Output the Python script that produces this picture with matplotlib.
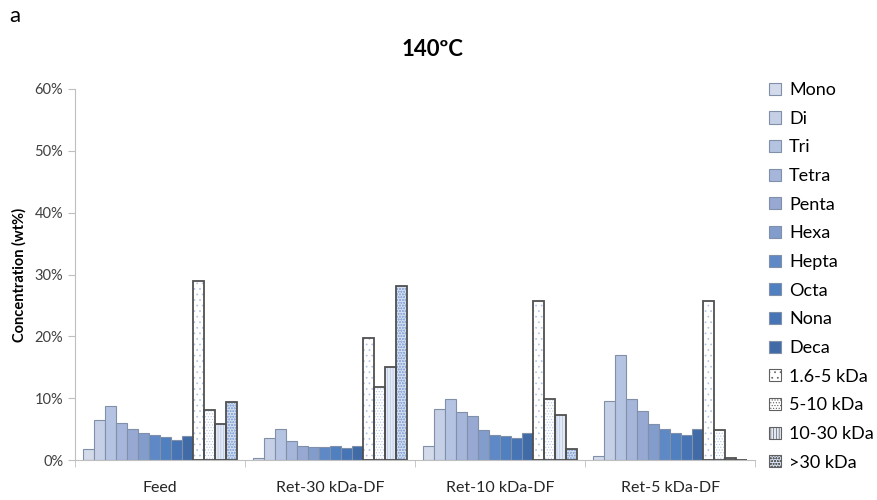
import numpy as np
import matplotlib
matplotlib.use("Agg")
import matplotlib.pyplot as plt
from matplotlib.patches import Patch
from matplotlib.ticker import PercentFormatter

plt.rcParams['font.family'] = ['Lato', 'DejaVu Sans']
plt.rcParams['hatch.linewidth'] = 0.5

# Data (wt%)
groups = ["Feed", "Ret-30 kDa-DF", "Ret-10 kDa-DF", "Ret-5 kDa-DF"]
fractions = ["Mono", "Di", "Tri", "Tetra", "Penta", "Hexa", "Hepta", "Octa",
             "Nona", "Deca", "1.6-5 kDa", "5-10 kDa", "10-30 kDa", ">30 kDa"]

feed = [1.7, 6.5, 8.8, 6.0, 5.0, 4.4, 4.0, 3.7, 3.3, 3.9, 28.9, 8.1, 5.9, 9.3]
ret30 = [0.4, 3.6, 5.0, 3.1, 2.3, 2.1, 2.1, 2.2, 2.0, 2.3, 19.7, 11.8, 15.0, 28.1]
ret10 = [2.2, 8.2, 9.8, 7.7, 7.1, 4.9, 4.1, 3.9, 3.5, 4.4, 25.7, 9.8, 7.2, 1.7]
ret5 = [0.7, 9.5, 17.0, 9.9, 7.9, 5.8, 5.0, 4.4, 4.0, 5.0, 25.7, 4.9, 0.3, 0.0]

values = np.array([feed, ret30, ret10, ret5])  # groups x fractions

oligo_colors = ["#D3DAEA", "#C5CFE6", "#B4C3E1", "#A5B6DA", "#97A9D2",
                "#829DCC", "#5F89C6", "#5080C0", "#4674B5", "#406BA6"]
# (hatch, face colour, hatch colour) for the kDa fractions
hatch_styles = [("...", "white", "#AFC3E6"), ("......", "white", "#B4C6E6"),
                ("||||||", "#E3EAF5", "#B4C6E6"), ("oooooo", "#D3DEF0", "#93AEDB")]


def main():
    fig = plt.figure(figsize=(8.78, 5), dpi=100)
    ax = fig.add_axes([0.0854, 0.08, 0.7746, 0.742])

    n = len(fractions)
    width = 0.906 / n
    x = np.arange(len(groups))
    handles = []
    for i, name in enumerate(fractions):
        pos = x - 0.453 + width * (i + 0.5)
        vals = values[:, i] / 100.0
        if i < 10:
            ax.bar(pos, vals, width, color=oligo_colors[i], edgecolor="#8090A8",
                   linewidth=0.8, zorder=2)
            handles.append(Patch(facecolor=oligo_colors[i], edgecolor="#8090A8",
                                 linewidth=0.8, label=name))
        else:
            hatch, fc, hc = hatch_styles[i - 10]
            ax.bar(pos, vals, width, color=fc, edgecolor=hc, hatch=hatch,
                   linewidth=0, zorder=2)
            ax.bar(pos, vals, width, fill=False, edgecolor="#505050",
                   linewidth=1.3, zorder=3)
            handles.append(Patch(facecolor=fc, edgecolor="#606060", hatch=hatch,
                                 linewidth=0.8, label=name))

    ax.set_xlim(-0.5, len(groups) - 0.5)
    ax.set_ylim(0, 0.6)
    ax.set_yticks(np.arange(0, 0.61, 0.1))
    ax.yaxis.set_major_formatter(PercentFormatter(1.0, decimals=0))
    ax.set_xticks(x)
    ax.set_xticklabels(groups)
    ax.set_xticks(np.arange(-0.5, len(groups), 1.0), minor=True)
    ax.tick_params(axis="x", which="major", length=0, labelsize=11.5, pad=15,
                   colors="#262626")
    ax.tick_params(axis="x", which="minor", length=5, color="#BFBFBF")
    ax.tick_params(axis="y", length=5, color="#BFBFBF", labelsize=10.5,
                   labelcolor="#404040")

    for side in ["top", "right"]:
        ax.spines[side].set_visible(False)
    for side in ["left", "bottom"]:
        ax.spines[side].set_color("#BFBFBF")

    ax.set_ylabel("Concentration (wt%)", fontsize=10.5, fontweight="bold",
                  labelpad=6)
    fig.text(0.492, 0.90, "140ºC", fontsize=16, fontweight="bold",
             ha="center", va="center")
    fig.text(0.011, 0.968, "a", fontsize=16, va="center")

    fig.legend(handles=handles, loc="upper left", bbox_to_anchor=(0.868, 0.85),
               frameon=False, fontsize=13, handlelength=0.65, handleheight=0.65,
               labelspacing=0.70, handletextpad=0.45, borderaxespad=0)

    fig.savefig("out.png", dpi=100)
    plt.close(fig)


if __name__ == "__main__":
    main()
